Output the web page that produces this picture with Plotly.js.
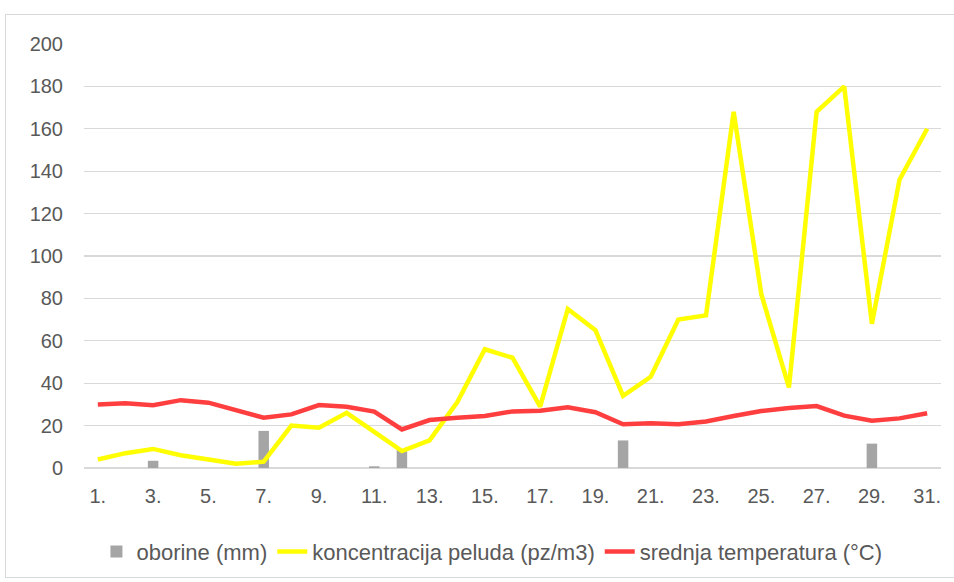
<!DOCTYPE html>
<html>
<head>
<meta charset="utf-8">
<script src="https://cdn.plot.ly/plotly-3.0.1.min.js"></script>
<style>
html,body{margin:0;padding:0;background:#fff;overflow:hidden;}
#wrap{position:absolute;left:5px;top:14px;width:1000px;height:562px;border:1px solid #d9d9d9;}
#chart{width:956px;height:562px;}
</style>
</head>
<body>
<div id="wrap"><div id="chart"></div></div>
<script>
const days = ["1.","2.","3.","4.","5.","6.","7.","8.","9.","10.","11.","12.","13.","14.","15.","16.","17.","18.","19.","20.","21.","22.","23.","24.","25.","26.","27.","28.","29.","30.","31."];
const tickLabels = ["1.","3.","5.","7.","9.","11.","13.","15.","17.","19.","21.","23.","25.","27.","29.","31."];
const oborine = [0,0,3.4,0,0,0,17.5,0,0,0,0.8,8.5,0,0,0,0,0,0,0,13,0,0,0,0,0,0,0,0,11.5,0,0];
const peludi = [4,7,9,6,4,2,3,20,19,26,17,8,13,31,56,52,29,75,65,34,43,70,72,168,82,38,168,180,68,136,160];
const temperatura = [30,30.5,29.6,32,30.8,27,23.7,25.3,29.7,28.9,26.6,18.2,22.6,23.7,24.5,26.7,27,28.6,26.3,20.6,21.1,20.6,21.9,24.5,26.9,28.3,29.2,24.7,22.3,23.4,25.8];
const names = ["oborine (mm)","koncentracija peluda (pz/m3)","srednja temperatura (°C)"];

const fam = "'Liberation Sans', Arial, sans-serif";
const tickFont = {family:fam, size:20, color:"#595959"};
const legFont = {family:fam, size:22, color:"#595959"};

const traces = [
  {type:"bar", x:days, y:oborine, name:names[0], marker:{color:"#A5A5A5"}, hoverinfo:"skip"},
  {type:"scatter", mode:"lines", x:days, y:peludi, name:names[1], line:{color:"#FFFF00", width:4.5}, hoverinfo:"skip"},
  {type:"scatter", mode:"lines", x:days, y:temperatura, name:names[2], line:{color:"#FF3F3F", width:4.5}, hoverinfo:"skip"}
];

const layout = {
  width:956, height:562,
  margin:{l:78, r:21, t:29, b:109},
  paper_bgcolor:"#fff", plot_bgcolor:"#fff",
  font:tickFont,
  bargap:0.62,
  showlegend:true,
  legend:{orientation:"h", xref:"paper", x:0.476, xanchor:"center", yref:"container", y:0.045, yanchor:"middle", font:legFont, traceorder:"normal", itemwidth:30},
  xaxis:{type:"category", tickmode:"array", tickvals:tickLabels, ticktext:tickLabels, showgrid:false, zeroline:false, showline:false, ticks:"", tickfont:tickFont, ticklabelstandoff:14, range:[-0.5,30.5], fixedrange:true, automargin:false},
  yaxis:{range:[0,200], dtick:20, showgrid:true, gridcolor:"#D9D9D9", gridwidth:1.2, zeroline:true, zerolinecolor:"#D9D9D9", zerolinewidth:1.2, showline:false, ticks:"", tickfont:tickFont, ticklabelstandoff:20, fixedrange:true, automargin:false}
};

Plotly.newPlot("chart", traces, layout, {displayModeBar:false, staticPlot:true});
</script>
</body>
</html>
